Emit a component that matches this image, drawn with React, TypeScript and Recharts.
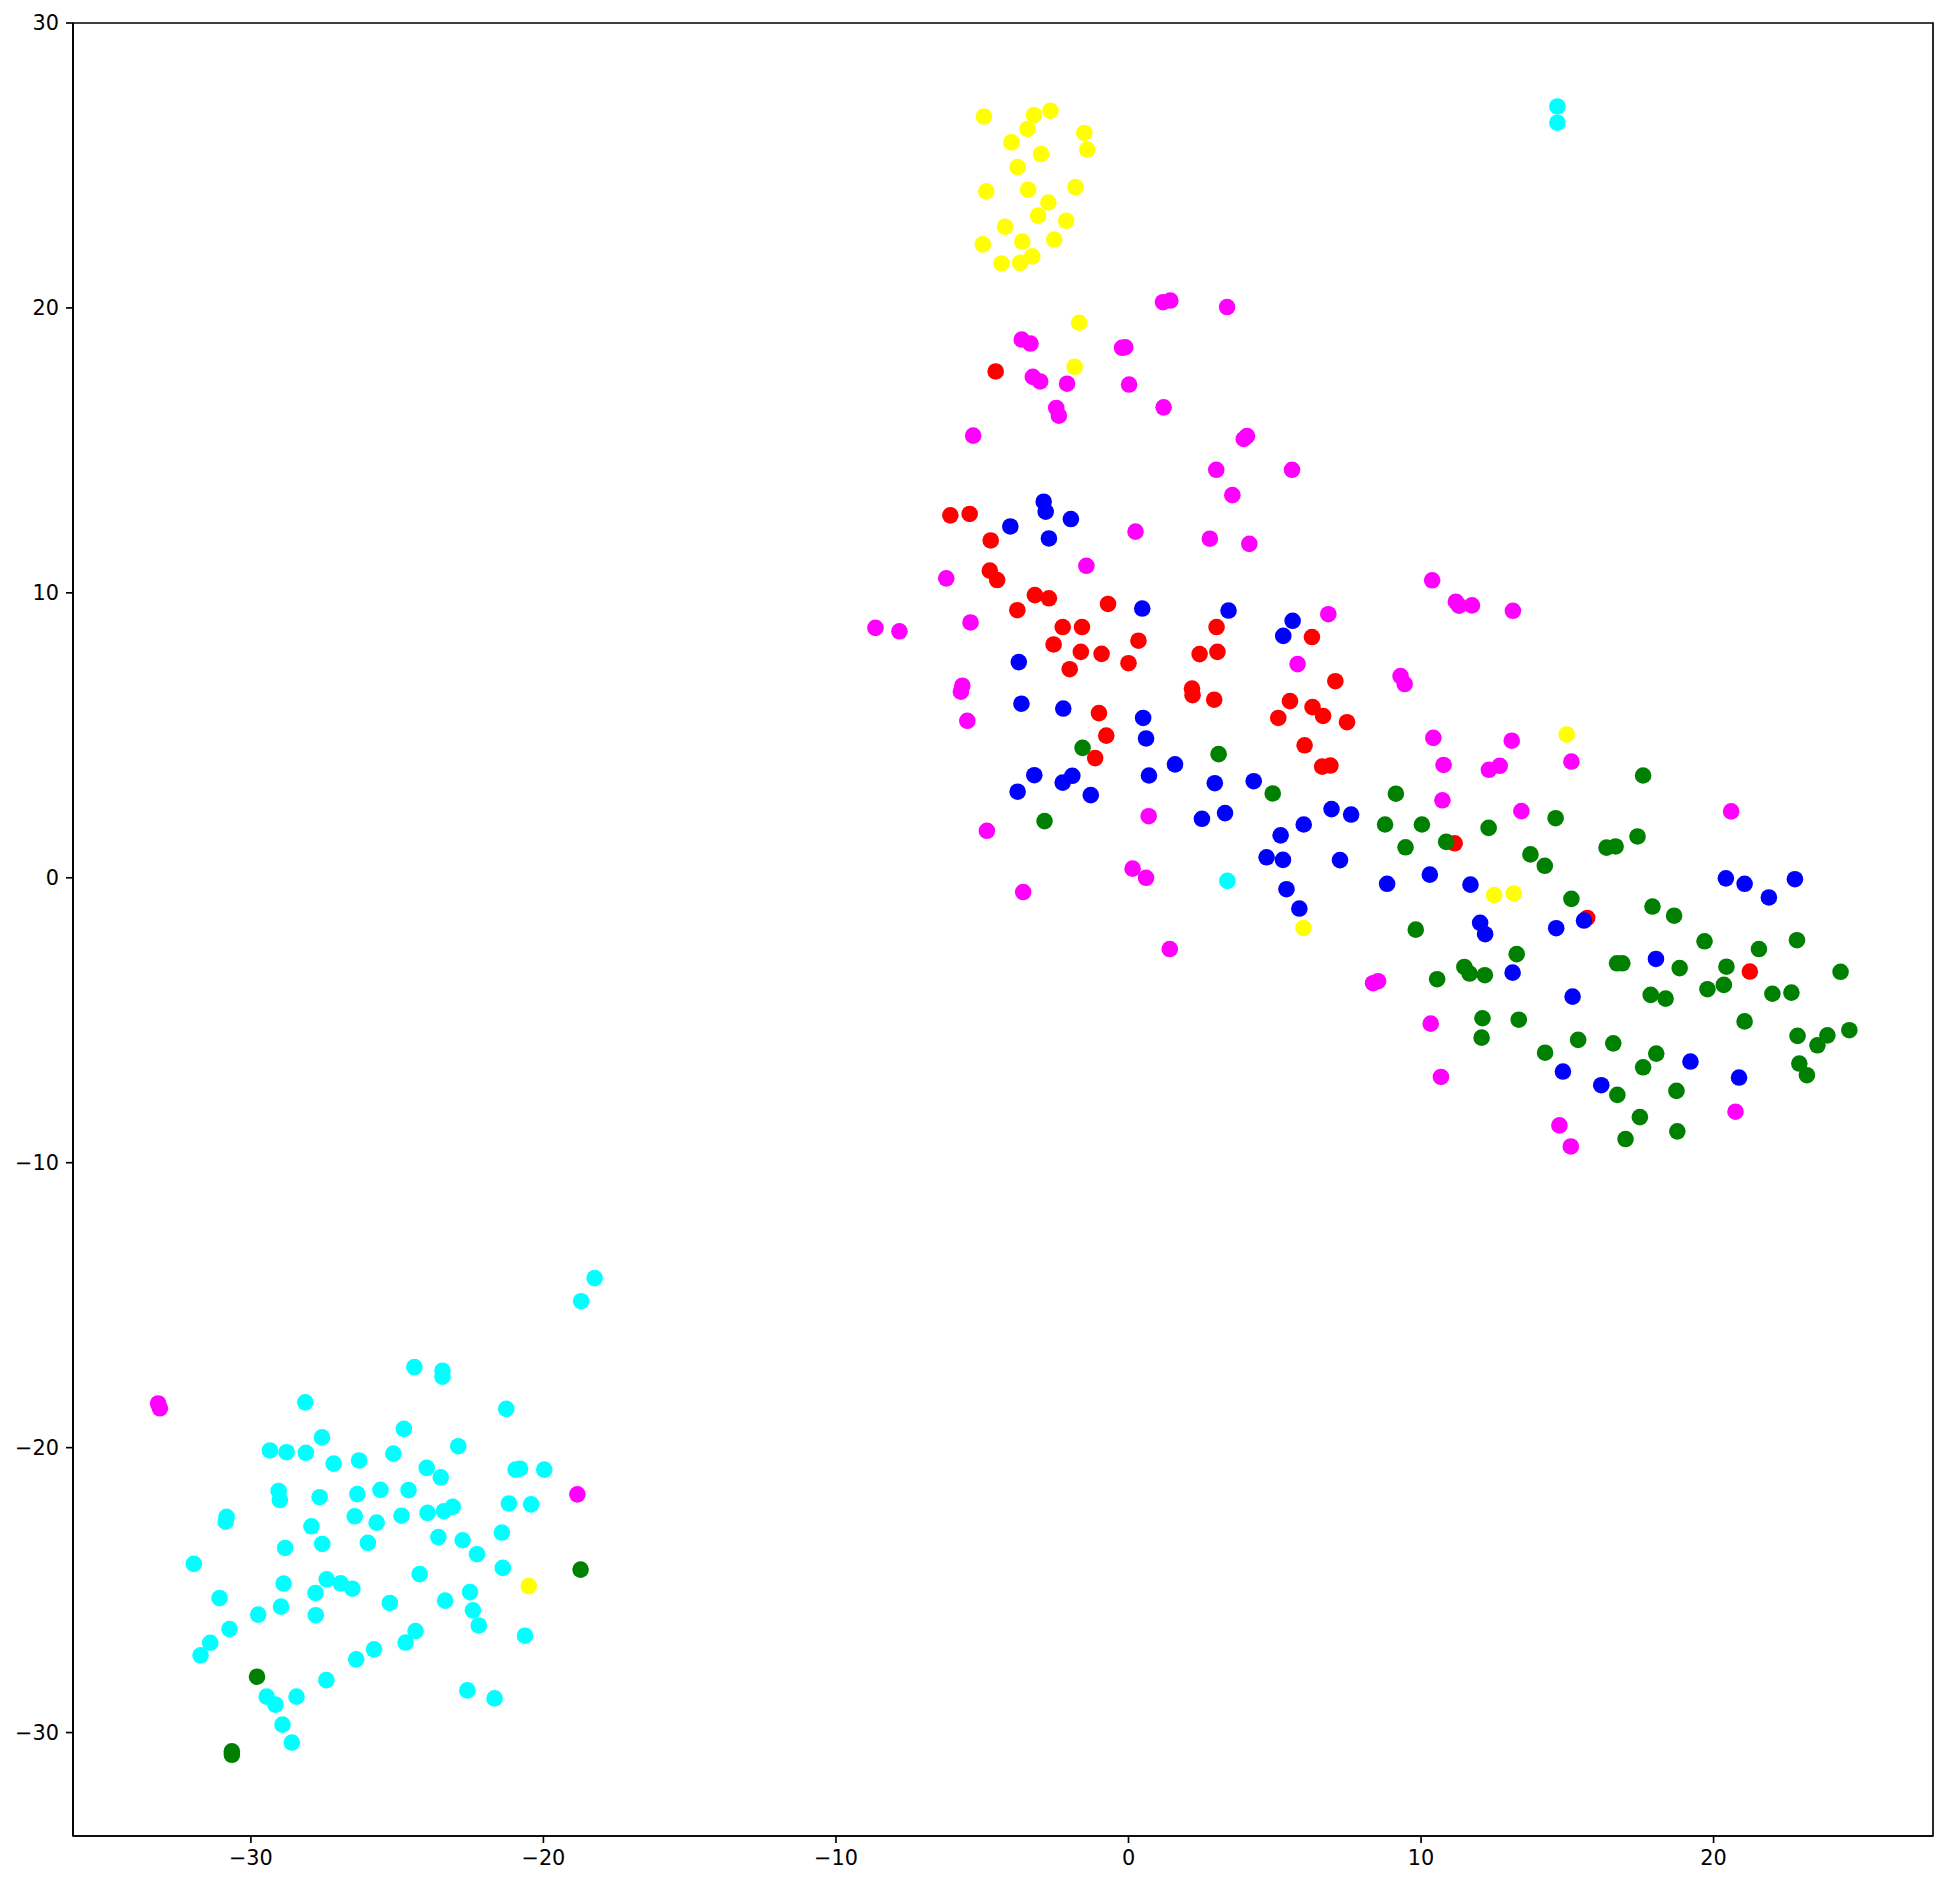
import { ScatterChart, Scatter, XAxis, YAxis, ReferenceArea } from 'recharts'

type Pt = { x: number; y: number }

// axis limits and ticks
const X_DOMAIN: [number, number] = [-36.08, 27.5]
const Y_DOMAIN: [number, number] = [-33.63, 30.0]
const X_TICKS = [-30, -20, -10, 0, 10, 20]
const Y_TICKS = [-30, -20, -10, 0, 10, 20, 30]

const pts = (a: number[][]): Pt[] => a.map(([x, y]) => ({ x, y }))

const red = pts([
  [-4.54, 17.77], [-6.09, 12.72], [-5.43, 12.77], [-4.71, 11.84], [-4.74, 10.78], [-4.49, 10.45],
  [-3.2, 9.92], [-2.72, 9.81], [-3.8, 9.39], [-0.7, 9.61], [-2.25, 8.8], [-1.59, 8.8], [3.01, 8.8],
  [0.34, 8.32], [-2.56, 8.19], [-1.63, 7.93], [-0.92, 7.86], [0.0, 7.53], [2.43, 7.85], [3.04, 7.93],
  [-2.01, 7.32], [2.17, 6.64], [2.19, 6.41], [2.93, 6.25], [-1.01, 5.78], [-0.76, 4.99], [-1.14, 4.2],
  [6.27, 8.45], [7.07, 6.9], [5.52, 6.2], [6.29, 5.99], [6.65, 5.68], [5.12, 5.61], [7.47, 5.46],
  [6.02, 4.65], [6.62, 3.9], [6.9, 3.94], [11.15, 1.21], [15.68, -1.41], [21.24, -3.29],
])

const magenta = pts([
  [1.18, 20.2], [1.43, 20.26], [3.37, 20.03], [-3.65, 18.89], [-3.35, 18.75], [-0.22, 18.6], [-0.11, 18.62],
  [-3.27, 17.58], [-3.02, 17.42], [-2.1, 17.34], [0.02, 17.31], [-2.47, 16.49], [-2.38, 16.22], [1.2, 16.51],
  [-5.31, 15.52], [4.05, 15.5], [3.94, 15.4], [3.0, 14.32], [3.55, 13.43], [5.59, 14.32], [0.24, 12.15],
  [2.78, 11.9], [4.13, 11.72], [-1.44, 10.95], [-6.23, 10.51], [-8.65, 8.77], [-7.83, 8.65], [-5.4, 8.96],
  [-5.68, 6.74], [-5.73, 6.53], [-5.51, 5.51], [0.69, 2.16], [-4.84, 1.65], [0.14, 0.32], [0.6, 0.0],
  [-3.6, -0.5], [1.41, -2.5], [10.38, 10.44], [11.19, 9.69], [11.3, 9.55], [11.74, 9.56], [13.14, 9.37],
  [6.83, 9.25], [5.78, 7.5], [9.3, 7.08], [9.44, 6.8], [10.42, 4.91], [13.1, 4.81], [10.77, 3.96],
  [12.32, 3.79], [12.69, 3.93], [15.14, 4.08], [10.73, 2.72], [13.43, 2.34], [20.6, 2.33], [8.36, -3.7],
  [8.53, -3.63], [10.33, -5.12], [10.68, -6.99], [14.73, -8.69], [15.12, -9.43], [20.75, -8.21],
  [-33.17, -18.45], [-33.11, -18.62], [-18.84, -21.64],
])

const yellow = pts([
  [-4.94, 26.72], [-3.23, 26.77], [-2.67, 26.92], [-3.45, 26.28], [-1.51, 26.14], [-1.41, 25.56],
  [-4.0, 25.81], [-2.99, 25.4], [-3.79, 24.94], [-4.86, 24.09], [-3.43, 24.15], [-1.81, 24.24],
  [-2.74, 23.7], [-3.09, 23.24], [-2.13, 23.06], [-4.22, 22.85], [-4.98, 22.23], [-3.63, 22.33],
  [-2.54, 22.4], [-3.29, 21.81], [-4.34, 21.56], [-3.7, 21.58], [-1.69, 19.48], [-1.84, 17.93],
  [14.98, 5.03], [12.5, -0.61], [13.17, -0.55], [5.98, -1.76], [-20.5, -24.86],
])

const cyan = pts([
  [14.66, 27.07], [14.66, 26.5], [3.38, -0.11],
  [-28.14, -18.41], [-27.57, -19.64], [-29.35, -20.1], [-28.78, -20.16], [-28.12, -20.18], [-27.17, -20.56],
  [-26.3, -20.45], [-29.05, -21.52], [-29.01, -21.84], [-27.65, -21.74], [-26.36, -21.63], [-30.83, -22.43],
  [-30.86, -22.6], [-26.45, -22.41], [-27.93, -22.76], [-28.83, -23.52], [-27.56, -23.38], [-26.0, -23.34],
  [-31.95, -24.08], [-28.88, -24.77], [-27.41, -24.62], [-26.93, -24.76], [-26.53, -24.95], [-27.79, -25.1],
  [-31.07, -25.28], [-28.97, -25.58], [-29.75, -25.86], [-27.78, -25.88], [-30.73, -26.37], [-31.39, -26.85],
  [-31.72, -27.29], [-25.79, -27.08], [-26.4, -27.43], [-27.42, -28.16], [-29.46, -28.74], [-29.16, -29.02],
  [-28.44, -28.74], [-28.92, -29.72], [-28.6, -30.35],
  [-18.25, -14.05], [-18.71, -14.86], [-24.41, -17.17], [-23.45, -17.3], [-23.45, -17.51], [-21.27, -18.64],
  [-24.77, -19.34], [-25.13, -20.21], [-22.91, -19.95], [-23.99, -20.71], [-23.51, -21.04], [-20.95, -20.77],
  [-20.8, -20.74], [-19.97, -20.77], [-25.57, -21.48], [-24.61, -21.49], [-25.7, -22.63], [-24.85, -22.39],
  [-23.96, -22.29], [-23.4, -22.23], [-23.1, -22.08], [-21.18, -21.96], [-20.42, -21.99], [-23.59, -23.14],
  [-22.76, -23.25], [-22.27, -23.74], [-21.42, -22.98], [-21.39, -24.22], [-24.23, -24.44], [-25.25, -25.45],
  [-23.36, -25.37], [-22.51, -25.07], [-22.41, -25.71], [-22.21, -26.24], [-24.37, -26.44], [-24.71, -26.84],
  [-20.63, -26.6], [-22.6, -28.52], [-21.67, -28.8],
])

const blue = pts([
  [-2.9, 13.2], [-2.83, 12.85], [-4.04, 12.33], [-1.97, 12.59], [-2.72, 11.91], [0.47, 9.45], [3.42, 9.38],
  [-3.75, 7.57], [-3.66, 6.11], [-2.23, 5.94], [0.5, 5.61], [0.6, 4.89], [1.59, 3.98], [-3.22, 3.6],
  [-1.92, 3.58], [-2.25, 3.34], [0.7, 3.59], [-3.79, 3.02], [-1.29, 2.9], [2.95, 3.32], [4.28, 3.39],
  [2.51, 2.07], [3.3, 2.27], [5.61, 9.02], [5.29, 8.49], [6.94, 2.41], [7.61, 2.22], [5.99, 1.87],
  [5.2, 1.49], [4.72, 0.72], [5.28, 0.63], [7.23, 0.62], [10.3, 0.11], [8.84, -0.21], [11.69, -0.24],
  [15.57, -1.5], [5.4, -0.4], [5.84, -1.08], [12.02, -1.58], [12.19, -1.98], [14.62, -1.77], [13.13, -3.33],
  [15.18, -4.17], [14.85, -6.8], [16.16, -7.28], [20.42, -0.02], [21.06, -0.21], [22.78, -0.05],
  [21.89, -0.69], [18.03, -2.85], [19.21, -6.45], [20.87, -7.01],
])

const green = pts([
  [-1.57, 4.56], [3.08, 4.34], [-2.87, 1.99], [4.93, 2.96], [9.14, 2.95], [14.6, 2.09], [8.77, 1.87],
  [10.03, 1.87], [12.31, 1.75], [9.47, 1.07], [10.86, 1.26], [13.74, 0.82], [14.23, 0.42], [16.34, 1.06],
  [16.65, 1.1], [15.14, -0.74], [9.82, -1.82], [13.27, -2.68], [16.7, -3.0], [16.88, -3.0], [11.48, -3.13],
  [11.66, -3.36], [12.18, -3.42], [10.55, -3.56], [12.1, -4.93], [13.34, -4.98], [12.07, -5.61],
  [15.37, -5.69], [16.57, -5.81], [14.24, -6.14], [16.71, -7.62], [17.59, 3.59], [17.4, 1.45],
  [17.91, -1.01], [18.65, -1.33], [19.69, -2.23], [21.55, -2.5], [22.85, -2.19], [18.84, -3.17],
  [20.44, -3.12], [24.34, -3.3], [17.85, -4.11], [18.36, -4.24], [19.79, -3.91], [20.35, -3.76],
  [22.01, -4.07], [22.66, -4.03], [21.06, -5.04], [22.87, -5.55], [23.55, -5.88], [23.89, -5.53],
  [24.64, -5.35], [22.93, -6.52], [23.19, -6.93], [18.04, -6.17], [17.59, -6.65], [18.73, -7.48],
  [17.48, -8.4], [18.76, -8.9], [16.99, -9.17], [-29.79, -28.04], [-30.65, -30.66], [-30.65, -30.78],
  [-18.73, -24.28],
])

// drawing order: red first so green/blue sit on top where they overlap
const SERIES: { name: string; color: string; data: Pt[] }[] = [
  { name: 'red', color: '#ff0000', data: red },
  { name: 'magenta', color: '#ff00ff', data: magenta },
  { name: 'yellow', color: '#ffff00', data: yellow },
  { name: 'cyan', color: '#00ffff', data: cyan },
  { name: 'blue', color: '#0000ff', data: blue },
  { name: 'green', color: '#008000', data: green },
]

const W = 1956
const H = 1886
const LINE = { stroke: '#000', strokeWidth: 1.67 }
const TICK = { fill: '#000', fontSize: 20.8, fontFamily: 'DejaVu Sans' }
const fmt = (v: number) => String(v).replace('-', '\u2212')

const dot = (color: string) => (p: any) => <circle cx={p.cx} cy={p.cy} r={8.3} fill={color} />

export default function App() {
  return (
    <div style={{ position: 'absolute', left: 0, top: 0, width: W, height: H, background: '#fff' }}>
      <ScatterChart width={W} height={H} margin={{ top: 23, right: 23, bottom: 0, left: 0 }}>
        <XAxis
          dataKey="x" type="number" domain={X_DOMAIN} ticks={X_TICKS} allowDataOverflow
          height={50} tickSize={7} tickMargin={7} axisLine={LINE} tickLine={LINE}
          tick={TICK} tickFormatter={fmt} interval={0}
        />
        <YAxis
          dataKey="y" type="number" domain={Y_DOMAIN} ticks={Y_TICKS} allowDataOverflow
          width={73} tickSize={7} tickMargin={7} axisLine={LINE} tickLine={LINE}
          tick={TICK} tickFormatter={fmt} interval={0}
        />
        {/* frame: top and right spines */}
        <ReferenceArea
          x1={X_DOMAIN[0]} x2={X_DOMAIN[1]} y1={Y_DOMAIN[0]} y2={Y_DOMAIN[1]}
          fill="none" fillOpacity={0} stroke="#000" strokeWidth={1.67} ifOverflow="visible"
        />
        {SERIES.map((s) => (
          <Scatter key={s.name} name={s.name} data={s.data} fill={s.color}
            shape={dot(s.color)} isAnimationActive={false} />
        ))}
      </ScatterChart>
    </div>
  )
}
